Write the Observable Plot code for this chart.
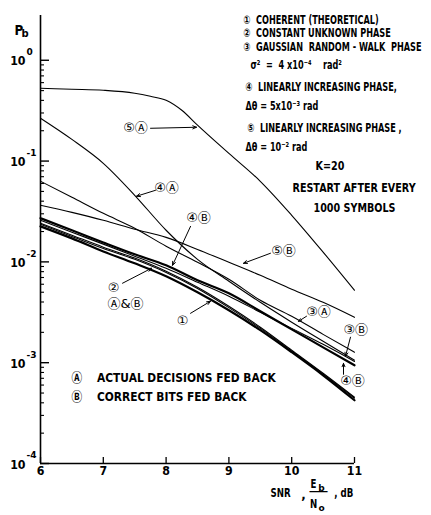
<!DOCTYPE html>
<html><head><meta charset="utf-8">
<script src="https://cdn.jsdelivr.net/npm/d3@7"></script>
<script src="https://cdn.jsdelivr.net/npm/@observablehq/plot@0.6"></script>
<style>
body{margin:0;background:#fff;}
</style></head><body><div id="chart"></div>
<script>
// ---- data ----
const snr = [6, 6.5, 7, 7.5, 8, 8.5, 9, 9.5, 10, 10.5, 11];
const pb1  = [0.0225, 0.0171, 0.0127, 0.00968, 0.0072, 0.00499, 0.00331, 0.0021, 0.00127, 0.00075, 0.000424];
const pb2A = [0.0242, 0.0184, 0.0140, 0.0109, 0.00807, 0.0056, 0.00363, 0.00225, 0.00133, 0.000785, 0.000454];
const pb2B = [0.0236, 0.0179, 0.0136, 0.0106, 0.00785, 0.00545, 0.00352, 0.00219, 0.0013, 0.000768, 0.000445];
const pb3A = [0.0631, 0.0438, 0.0303, 0.0216, 0.0143, 0.00991, 0.00672, 0.00416, 0.00289, 0.00191, 0.00127];
const pb3B = [0.0259, 0.0197, 0.0150, 0.0114, 0.00865, 0.00628, 0.00456, 0.00316, 0.00219, 0.00152, 0.00103];
const pb4A = [0.266, 0.164, 0.095, 0.0458, 0.0206, 0.0106, 0.00642, 0.00397, 0.00252, 0.00163, 0.00106];
const pb4B = [0.0271, 0.0206, 0.0156, 0.0119, 0.00925, 0.00657, 0.00488, 0.00324, 0.00214, 0.00142, 0.000942];
const pb5B = [0.0365, 0.031, 0.0259, 0.0211, 0.0175, 0.0133, 0.00991, 0.00736, 0.00535, 0.00397, 0.00282];
// curve 5A is read on a finer grid around its knee
const snr5A = [6, 6.5, 7, 7.5, 7.75, 8, 8.25, 8.5, 9, 9.5, 10, 10.5, 11];
const pb5A  = [0.528, 0.516, 0.504, 0.471, 0.439, 0.401, 0.319, 0.227, 0.119, 0.063, 0.029, 0.0125, 0.00523];

const xTicks = [6, 7, 8, 9, 10, 11];
const yMajor = [1, 0.1, 0.01, 0.001, 0.0001];
const yExp = ["0", "-1", "-2", "-3", "-4"];
const yMinor = [0.9,0.8,0.7,0.6,0.5,0.4,0.3,0.2,
  0.09,0.08,0.07,0.06,0.05,0.04,0.03,0.02,
  0.009,0.008,0.007,0.006,0.005,0.004,0.003,0.002,
  0.0009,0.0008,0.0007,0.0006,0.0005,0.0004,0.0003,0.0002];

// curve labels (text, x in dB, y in Pb)
const curveLabels = [
  {t: "⑤Ⓐ", x: 7.513, y: 0.2115},
  {t: "④Ⓐ", x: 8.006, y: 0.0537},
  {t: "④Ⓑ", x: 8.516, y: 0.0271},
  {t: "⑤Ⓑ", x: 9.869, y: 0.0130},
  {t: "②", x: 7.162, y: 0.00547},
  {t: "Ⓐ&Ⓑ", x: 7.354, y: 0.00388},
  {t: "①", x: 8.261, y: 0.00263},
  {t: "③Ⓐ", x: 10.427, y: 0.00316},
  {t: "③Ⓑ", x: 11.02, y: 0.00210},
  {t: "④Ⓑ", x: 10.968, y: 0.000654}
];
const arrows = [
  {x1: 7.752, y1: 0.2115, x2: 8.484, y2: 0.2165},
  {x1: 7.831, y1: 0.0513, x2: 7.529, y2: 0.0448},
  {x1: 8.389, y1: 0.0225, x2: 8.102, y2: 0.00925},
  {x1: 9.662, y1: 0.01218, x2: 9.232, y2: 0.00968},
  {x1: 7.306, y1: 0.00614, x2: 7.768, y2: 0.00865},
  {x1: 8.389, y1: 0.00309, x2: 8.707, y2: 0.00407},
  {x1: 10.236, y1: 0.00289, x2: 10.108, y2: 0.00257},
  {x1: 10.936, y1: 0.00179, x2: 10.857, y2: 0.00116},
  {x1: 10.825, y1: 0.000767, x2: 10.825, y2: 0.000986}
];
const legendTop = [
  {t: "①  COHERENT (THEORETICAL)", x: 9.232, y: 2.49},
  {t: "②  CONSTANT UNKNOWN PHASE", x: 9.232, y: 1.85},
  {t: "③  GAUSSIAN  RANDOM - WALK  PHASE", x: 9.232, y: 1.35},
  {t: "σ²  =  4 x10⁻⁴    rad²", x: 9.344, y: 0.892},
  {t: "④  LINEARLY INCREASING PHASE,", x: 9.264, y: 0.540},
  {t: "Δθ = 5x10⁻³ rad", x: 9.264, y: 0.350},
  {t: "⑤  LINEARLY INCREASING PHASE ,", x: 9.296, y: 0.2115},
  {t: "Δθ = 10⁻² rad", x: 9.264, y: 0.137}
];
const legendNote = [
  {t: "K=20", x: 10.379, y: 0.0888},
  {t: "RESTART AFTER EVERY", x: 10.013, y: 0.0537},
  {t: "1000 SYMBOLS", x: 10.347, y: 0.0340}
];
const legendBottom = [
  {t: "Ⓐ    ACTUAL DECISIONS FED BACK", x: 6.494, y: 0.0007},
  {t: "Ⓑ    CORRECT BITS FED BACK", x: 6.494, y: 0.000454}
];

const curves = [["1", snr, pb1], ["2A", snr, pb2A], ["2B", snr, pb2B], ["3A", snr, pb3A], ["3B", snr, pb3B],
                ["4A", snr, pb4A], ["4B", snr, pb4B], ["5A", snr5A, pb5A], ["5B", snr, pb5B]];
const rows = curves.flatMap(([key, xs, vals]) => xs.map((x, i) => ({key, x, y: vals[i]})));
const thickKeys = new Set(["1", "4B"]);
const thinRows = rows.filter(d => !thickKeys.has(d.key));
const thickRows = rows.filter(d => thickKeys.has(d.key));

const font = "'DejaVu Sans', 'Noto Sans CJK SC', sans-serif";
const cls = (name) => ({ariaDescription: name, className: name});

const plot = Plot.plot({
  width: 431, height: 515,
  marginLeft: 40, marginRight: 77, marginTop: 15, marginBottom: 52,
  x: {domain: [6, 11], axis: null},
  y: {type: "log", domain: [1e-4, 2.78], axis: null},
  style: {fontFamily: font, color: "#000", background: "#fff", overflow: "visible"},
  marks: [
    Plot.ruleX([6], {strokeWidth: 1.6}),
    Plot.ruleY([1e-4], {strokeWidth: 1.6}),
    Plot.tickY(yMajor, {y: d => d, insetRight: 305, strokeWidth: 1.4}),
    Plot.tickY(yMinor, {y: d => d, insetRight: 310, strokeWidth: 1.1}),
    Plot.tickX(xTicks, {x: d => d, insetTop: 442, strokeWidth: 1.3}),
    Plot.text(xTicks, {x: d => d, frameAnchor: "bottom", dy: 11, text: d => String(d), fontSize: 13, fontWeight: "bold", ...cls("nw85")}),
    Plot.text(yMajor, {y: d => d, frameAnchor: "left", dx: -15, dy: 1, textAnchor: "end", text: () => "10", fontSize: 13, fontWeight: "bold", ...cls("nw85")}),
    Plot.text(yMajor, {y: d => d, frameAnchor: "left", dx: -14, dy: -8, textAnchor: "start", text: (d, i) => yExp[i], fontSize: 9, fontWeight: "bold"}),
    // P_b
    Plot.text(["P"], {frameAnchor: "top-left", dx: -26, dy: 10, text: d => d, fontSize: 14, fontWeight: "bold", ...cls("nw85")}),
    Plot.text(["b"], {frameAnchor: "top-left", dx: -19, dy: 14, text: d => d, fontSize: 10, fontWeight: "bold"}),
    // x label
    Plot.text(["SNR"], {x: () => 9.822, frameAnchor: "bottom", dy: 33, text: d => d, fontSize: 12, fontWeight: "bold", ...cls("nw72")}),
    Plot.text([","], {x: () => 10.19, frameAnchor: "bottom", dy: 35, text: d => d, fontSize: 12, fontWeight: "bold"}),
    Plot.text(["E"], {x: () => 10.347, frameAnchor: "bottom", dy: 24, text: d => d, fontSize: 12, fontWeight: "bold", ...cls("nw72")}),
    Plot.text(["b"], {x: () => 10.475, frameAnchor: "bottom", dy: 27, text: d => d, fontSize: 9, fontWeight: "bold"}),
    Plot.text(["N"], {x: () => 10.347, frameAnchor: "bottom", dy: 44, text: d => d, fontSize: 12, fontWeight: "bold", ...cls("nw72")}),
    Plot.text(["o"], {x: () => 10.475, frameAnchor: "bottom", dy: 47, text: d => d, fontSize: 9, fontWeight: "bold"}),
    Plot.text(["—"], {x: () => 10.427, frameAnchor: "bottom", dy: 33, text: d => d, fontSize: 20}),
    Plot.text([", dB"], {x: () => 10.83, frameAnchor: "bottom", dy: 33, text: d => d, fontSize: 12, fontWeight: "bold", ...cls("nw72")}),
    // curves
    Plot.line(thinRows, {x: "x", y: "y", z: "key", curve: "monotone-x", strokeWidth: 1.1}),
    Plot.line(thickRows, {x: "x", y: "y", z: "key", curve: "monotone-x", strokeWidth: 2.2}),
    // annotations
    Plot.arrow(arrows, {x1: "x1", y1: "y1", x2: "x2", y2: "y2", headLength: 6, headAngle: 45, strokeWidth: 1}),
    Plot.text(curveLabels, {x: "x", y: "y", text: "t", fontSize: 13}),
    Plot.text(legendTop, {x: "x", y: "y", text: "t", textAnchor: "start", fontSize: 12, fontWeight: "bold", ...cls("nw68")}),
    Plot.text(legendNote, {x: "x", y: "y", text: "t", textAnchor: "start", fontSize: 12, fontWeight: "bold", ...cls("nw80")}),
    Plot.text(legendBottom, {x: "x", y: "y", text: "t", textAnchor: "start", fontSize: 13, fontWeight: "bold", ...cls("nw82")})
  ]
});
document.getElementById("chart").appendChild(plot);

function narrow(svg, name, s) {
  svg.querySelectorAll(`g[aria-description="${name}"] text, g.${name} text`).forEach(t => {
    if (t.dataset.nw) return;
    t.dataset.nw = "1";
    const tr = t.getAttribute("transform");
    if (tr) t.setAttribute("transform", tr + ` scale(${s},1)`);
    else {
      const x = +t.getAttribute("x") || 0;
      t.setAttribute("transform", `translate(${x},0) scale(${s},1) translate(${-x},0)`);
    }
  });
}
narrow(plot, "nw68", 0.68);
narrow(plot, "nw80", 0.80);
narrow(plot, "nw82", 0.82);
narrow(plot, "nw72", 0.72);
narrow(plot, "nw85", 0.85);
</script>
</body></html>
